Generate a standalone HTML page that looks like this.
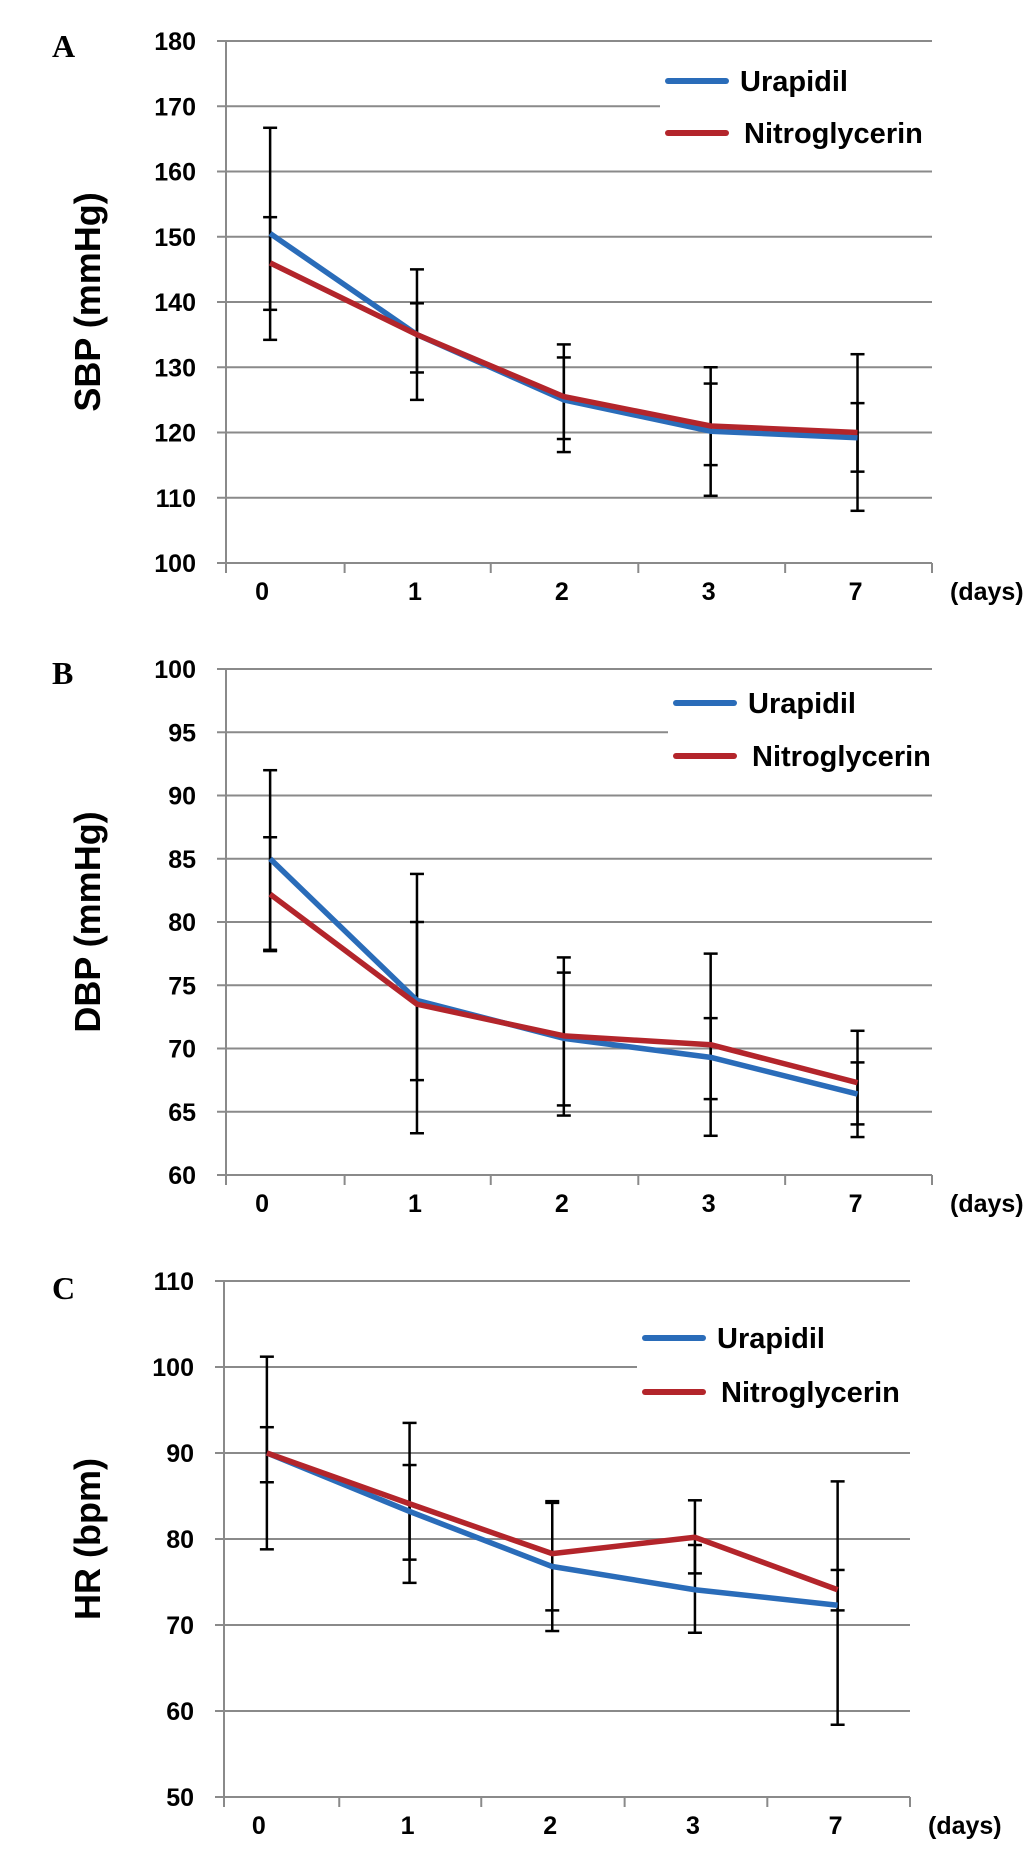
<!DOCTYPE html>
<html><head><meta charset="utf-8"><style>
html,body{margin:0;padding:0;background:#fff}
svg{display:block}
text{font-family:"Liberation Sans",Arial,sans-serif;font-weight:bold;fill:#000}
.lt{font-family:"Liberation Serif",serif}
</style></head><body>
<svg id="fig" width="1033" height="1856" viewBox="0 0 1033 1856" xmlns="http://www.w3.org/2000/svg"></svg>
<script>
const categories = ["0","1","2","3","7"];
// Panel A SBP
const sbpUrapidil = [150.5,135,125,120.2,119.2];
const sbpNitro = [146,135,125.5,121,120];
const sbpUHi = [166.7,145,133.5,130,132];
const sbpULo = [134.2,125,117,110.3,108];
const sbpNHi = [153,139.8,131.5,127.5,124.5];
const sbpNLo = [138.8,129.2,119,115,114];
const sbpTicks = [100,110,120,130,140,150,160,170,180];
// Panel B DBP
const dbpUrapidil = [85,73.8,70.8,69.3,66.4];
const dbpNitro = [82.2,73.5,71,70.3,67.3];
const dbpUHi = [92,83.8,77.2,77.5,71.4];
const dbpULo = [77.8,63.3,64.7,63.1,63];
const dbpNHi = [86.7,80,76,72.4,68.9];
const dbpNLo = [77.7,67.5,65.5,66,64];
const dbpTicks = [60,65,70,75,80,85,90,95,100];
// Panel C HR
const hrUrapidil = [90,83.2,76.8,74.1,72.3];
const hrNitro = [90,84.1,78.3,80.2,74.1];
const hrUHi = [101.2,93.5,84.4,84.5,86.7];
const hrULo = [78.8,74.9,69.3,69.1,58.4];
const hrNHi = [93,88.6,84.2,79.3,76.4];
const hrNLo = [86.6,77.6,71.7,76,71.7];
const hrTicks = [50,60,70,80,90,100,110];

const NS="http://www.w3.org/2000/svg";
const svg=document.getElementById('fig');
function mk(tag,attrs,parent,txt){const e=document.createElementNS(NS,tag);for(const k in attrs)e.setAttribute(k,attrs[k]);if(txt!==undefined)e.textContent=txt;(parent||svg).appendChild(e);return e;}

function panel(cfg){
  const g=mk('g',{});
  
  
  const ticks=cfg.ticks;
  const yMin=ticks[0], yMax=ticks[ticks.length-1];
  const y=v=>cfg.yBot-(v-yMin)/(yMax-yMin)*(cfg.yBot-cfg.yTop);
  const W=cfg.xR-cfg.xL;
  const x=i=>cfg.xL+W*(0.0625+0.208*i);
  ticks.forEach((t,k)=>{
    const xr=(t===cfg.shortTick)?cfg.legX-8:cfg.xR;
    const l=mk('line',{x1:cfg.xL-9,x2:xr,y1:y(t),y2:y(t),stroke:'#8a8a8a','stroke-width':2},g);
    
    
    const tx=mk('text',{x:cfg.xL-30,y:y(t)+9,'text-anchor':'end','font-size':25},g,String(t));
    
    
  });
  mk('line',{x1:cfg.xL,x2:cfg.xL,y1:y(yMax)-1,y2:y(yMin),stroke:'#8a8a8a','stroke-width':2},g);
  [0,0.168,0.375,0.584,0.792,1].forEach(f=>{
    mk('line',{x1:cfg.xL+W*f,x2:cfg.xL+W*f,y1:y(yMin),y2:y(yMin)+10,stroke:'#8a8a8a','stroke-width':2},g);
  });
  categories.forEach((c,i)=>{
    const t=mk('text',{x:x(i)-8+(i===0?0:6),y:cfg.yBot+37,'text-anchor':'middle','font-size':25},g,c);
    
    
  });
  const d=mk('text',{x:cfg.xR+18,y:cfg.yBot+37,'font-size':25},g,'(days)');
  
  
  const cy=(cfg.yTop+cfg.yBot)/2;
  const yt=mk('text',{x:0,y:0,'text-anchor':'middle','font-size':36,transform:`translate(100,${cy}) rotate(-90)`},g,cfg.title);
  
  
  const pl=mk('text',{x:52,y:cfg.letterY,'font-size':32,class:'lt'},g,cfg.letter);
  
  
  const series=[
    {v:cfg.u,hi:cfg.uHi,lo:cfg.uLo,c:'#2a6cb9',n:'Urapidil'},
    {v:cfg.n,hi:cfg.nHi,lo:cfg.nLo,c:'#b3252b',n:'Nitroglycerin'}];
  series.forEach(s=>{
    s.v.forEach((v,i)=>{
      const eb=mk('g',{stroke:'#000','stroke-width':2.5},g);
      
      
      mk('line',{x1:x(i),x2:x(i),y1:y(s.hi[i]),y2:y(s.lo[i])},eb);
      mk('line',{x1:x(i)-7,x2:x(i)+7,y1:y(s.hi[i]),y2:y(s.hi[i])},eb);
      mk('line',{x1:x(i)-7,x2:x(i)+7,y1:y(s.lo[i]),y2:y(s.lo[i])},eb);
    });
  });
  series.forEach((s,k)=>{
    const p=mk('polyline',{points:s.v.map((v,i)=>x(i)+','+y(v)).join(' '),fill:'none',stroke:s.c,'stroke-width':5.5,'stroke-linejoin':'round'},g);
    
    
    const ly=cfg.legY+k*cfg.legGap;
    const le=mk('g',{},g);
    
    
    mk('line',{x1:cfg.legX,x2:cfg.legX+58,y1:ly,y2:ly,stroke:s.c,'stroke-width':6,'stroke-linecap':'round'},le);
    mk('text',{x:cfg.legX+72+(k?4:0),y:ly+10,'font-size':29},le,s.n);
  });
}
panel({name:'panel-a-sbp',letter:'A',letterY:57,title:'SBP (mmHg)',ticks:sbpTicks,xL:226,xR:932,yTop:41,yBot:563,
  u:sbpUrapidil,n:sbpNitro,uHi:sbpUHi,uLo:sbpULo,nHi:sbpNHi,nLo:sbpNLo,legX:668,legY:81,legGap:52,shortTick:170});
panel({name:'panel-b-dbp',letter:'B',letterY:684,title:'DBP (mmHg)',ticks:dbpTicks,xL:226,xR:932,yTop:669,yBot:1175,
  u:dbpUrapidil,n:dbpNitro,uHi:dbpUHi,uLo:dbpULo,nHi:dbpNHi,nLo:dbpNLo,legX:676,legY:703,legGap:53,shortTick:95});
panel({name:'panel-c-hr',letter:'C',letterY:1299,title:'HR (bpm)',ticks:hrTicks,xL:224,xR:910,yTop:1281,yBot:1797,
  u:hrUrapidil,n:hrNitro,uHi:hrUHi,uLo:hrULo,nHi:hrNHi,nLo:hrNLo,legX:645,legY:1338,legGap:54,shortTick:100});
</script>
</body></html>
